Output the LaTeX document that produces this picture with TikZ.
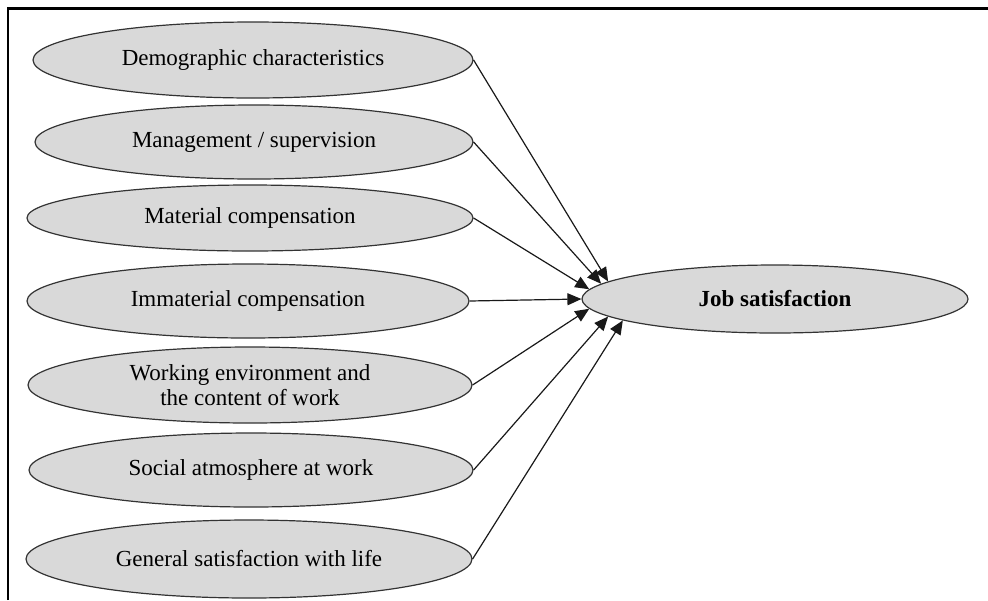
\documentclass[tikz,border=0pt]{standalone}
\usepackage{fontspec}
\setmainfont{Liberation Serif}
\usetikzlibrary{shapes.geometric,arrows.meta}
\begin{document}
\begin{tikzpicture}[x=0.5pt,y=-0.5pt,
  factor/.style={ellipse,draw=black!80,fill=black!15,line width=0.6pt,inner sep=0pt,
    minimum width=222pt,minimum height=37pt,align=center,
    font=\fontsize{11.5}{12.5}\selectfont},
  link/.style={-{Triangle[length=7pt,width=6pt]},line width=0.6pt,black!90}]
\useasboundingbox (0,0) rectangle (988,600);
\draw[line width=1.2pt] (8,600) -- (8,8.5) -- (988,8.5);          % frame
% left column of factors
\node[factor,minimum width=220pt,minimum height=38pt] (demo) at (253,60) {Demographic characteristics};
\node[factor,minimum width=219pt] (manage) at (254,142) {Management / supervision};
\node[factor,minimum width=223pt,minimum height=33pt] (material) at (250,218) {Material compensation};
\node[factor,minimum width=221pt] (immaterial) at (248,301) {Immaterial compensation};
\node[factor,minimum height=38pt] (environ) at (250,385) {Working environment and\\the content of work};
\node[factor] (social) at (251,470) {Social atmosphere at work};
\node[factor,minimum width=223pt,minimum height=39pt] (life) at (249,559) {General satisfaction with life};
% outcome
\node[factor,minimum width=193pt,minimum height=34pt,
  font=\fontsize{11.5}{12.5}\selectfont\bfseries] (job) at (775,299) {Job satisfaction};
% arrows
\draw[link] (demo.east) -- (job.174);
\draw[link] (manage.east) -- (job.175.5);
\draw[link] (material.east) -- (job.177.5);
\draw[link] (immaterial.east) -- (job.180);
\draw[link] (environ.east) -- (job.183.5);
\draw[link] (social.east) -- (job.186);
\draw[link] (life.east) -- (job.188.5);
\end{tikzpicture}
\end{document}
